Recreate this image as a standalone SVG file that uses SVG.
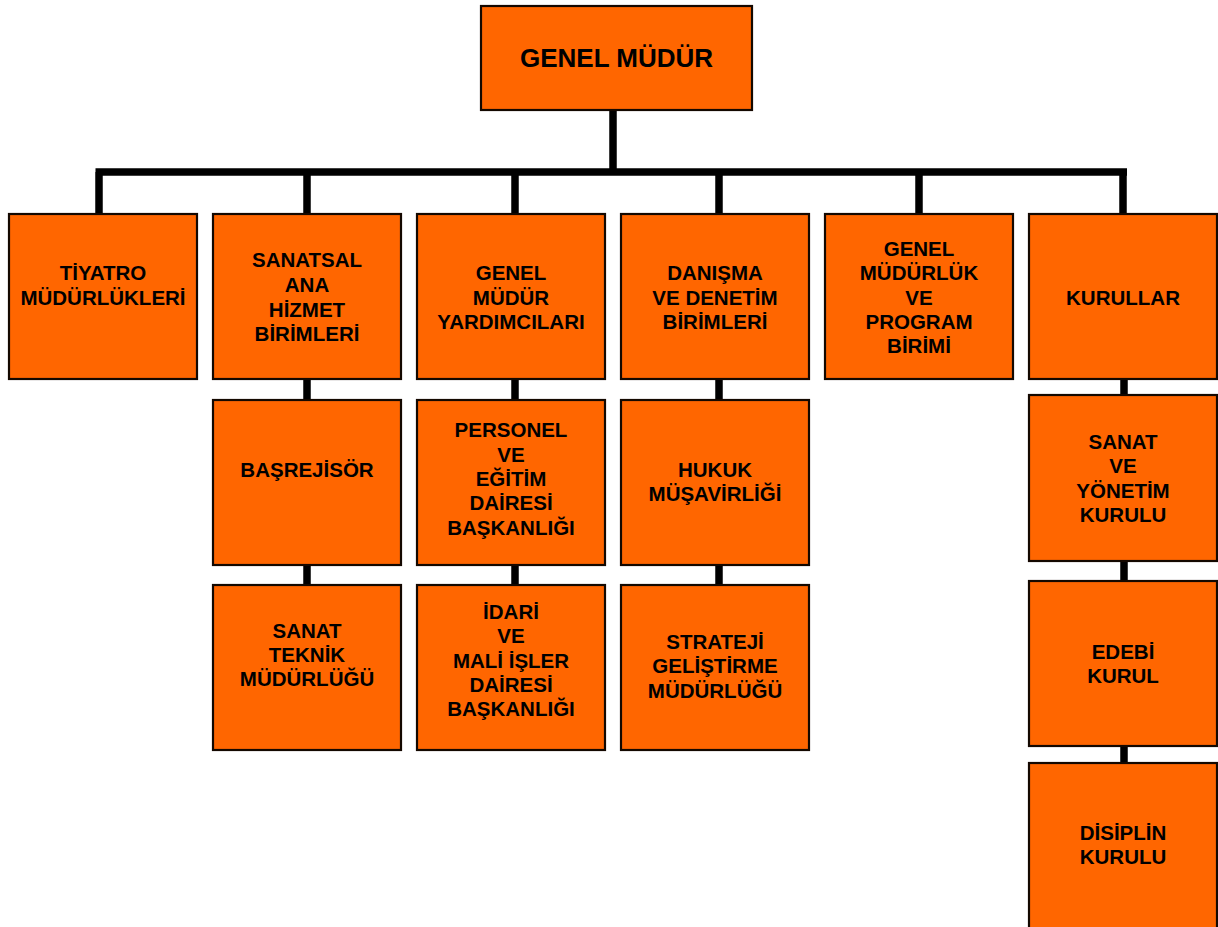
<svg xmlns="http://www.w3.org/2000/svg" width="1218" height="927" viewBox="0 0 1218 927">
<style>
.box{fill:#FF6600;stroke:#140800;stroke-width:2.2}
.t{font-family:"Liberation Sans",Arial,sans-serif;font-weight:bold;font-size:20.5px;fill:#000;text-anchor:middle}
.big{font-size:26px}
.c{stroke:#000;stroke-width:7.5;fill:none;stroke-linecap:butt}
</style>
<rect width="1218" height="927" fill="#fff"/>
<g id="connectors">
<path class="c" d="M613 110V172M95.5 172H1127M99 172V214M307 172V214M515 172V214M719 172V214M919 172V214M1123 172V214"/>
<path class="c" d="M307 379V400M307 565V585M515 379V400M515 565V585M719 379V400M719 565V585M1124 379V395M1124 561V581M1124 746V763"/>
</g>
<g id="genel-mudur"><rect class="box" x="481" y="6" width="271" height="104"/><text class="t big" x="616.5" y="67">GENEL MÜDÜR</text></g>
<g id="tiyatro"><rect class="box" x="9" y="214" width="188" height="165"/><text class="t" x="103"><tspan x="103" y="280">TİYATRO</tspan><tspan x="103" y="305">MÜDÜRLÜKLERİ</tspan></text></g>
<g id="sanatsal"><rect class="box" x="213" y="214" width="188" height="165"/><text class="t"><tspan x="307" y="267">SANATSAL</tspan><tspan x="307" y="292">ANA</tspan><tspan x="307" y="316.5">HİZMET</tspan><tspan x="307" y="341">BİRİMLERİ</tspan></text></g>
<g id="gm-yardimcilari"><rect class="box" x="417" y="214" width="188" height="165"/><text class="t"><tspan x="511" y="280">GENEL</tspan><tspan x="511" y="304.5">MÜDÜR</tspan><tspan x="511" y="328.5">YARDIMCILARI</tspan></text></g>
<g id="danisma"><rect class="box" x="621" y="214" width="188" height="165"/><text class="t"><tspan x="715" y="280">DANIŞMA</tspan><tspan x="715" y="304.5">VE DENETİM</tspan><tspan x="715" y="328.5">BİRİMLERİ</tspan></text></g>
<g id="program"><rect class="box" x="825" y="214" width="188" height="165"/><text class="t"><tspan x="919" y="255.5">GENEL</tspan><tspan x="919" y="280">MÜDÜRLÜK</tspan><tspan x="919" y="304.5">VE</tspan><tspan x="919" y="328.5">PROGRAM</tspan><tspan x="919" y="353">BİRİMİ</tspan></text></g>
<g id="kurullar"><rect class="box" x="1029" y="214" width="188" height="165"/><text class="t" x="1123" y="304.5">KURULLAR</text></g>
<g id="basrejisor"><rect class="box" x="213" y="400" width="188" height="165"/><text class="t" x="307" y="476.5">BAŞREJİSÖR</text></g>
<g id="personel"><rect class="box" x="417" y="400" width="188" height="165"/><text class="t"><tspan x="511" y="436.5">PERSONEL</tspan><tspan x="511" y="461.5">VE</tspan><tspan x="511" y="486">EĞİTİM</tspan><tspan x="511" y="510">DAİRESİ</tspan><tspan x="511" y="534.5">BAŞKANLIĞI</tspan></text></g>
<g id="hukuk"><rect class="box" x="621" y="400" width="188" height="165"/><text class="t"><tspan x="715" y="476.5">HUKUK</tspan><tspan x="715" y="501">MÜŞAVİRLİĞİ</tspan></text></g>
<g id="sanat-yonetim"><rect class="box" x="1029" y="395" width="188" height="166"/><text class="t"><tspan x="1123" y="449">SANAT</tspan><tspan x="1123" y="473">VE</tspan><tspan x="1123" y="498">YÖNETİM</tspan><tspan x="1123" y="522">KURULU</tspan></text></g>
<g id="sanat-teknik"><rect class="box" x="213" y="585" width="188" height="165"/><text class="t"><tspan x="307" y="637.5">SANAT</tspan><tspan x="307" y="661.5">TEKNİK</tspan><tspan x="307" y="686">MÜDÜRLÜĞÜ</tspan></text></g>
<g id="idari"><rect class="box" x="417" y="585" width="188" height="165"/><text class="t"><tspan x="511" y="618.5">İDARİ</tspan><tspan x="511" y="642.5">VE</tspan><tspan x="511" y="667.5">MALİ İŞLER</tspan><tspan x="511" y="691.5">DAİRESİ</tspan><tspan x="511" y="716">BAŞKANLIĞI</tspan></text></g>
<g id="strateji"><rect class="box" x="621" y="585" width="188" height="165"/><text class="t"><tspan x="715" y="648.5">STRATEJİ</tspan><tspan x="715" y="673">GELİŞTİRME</tspan><tspan x="715" y="697.5">MÜDÜRLÜĞÜ</tspan></text></g>
<g id="edebi"><rect class="box" x="1029" y="581" width="188" height="165"/><text class="t"><tspan x="1123" y="658.5">EDEBİ</tspan><tspan x="1123" y="683">KURUL</tspan></text></g>
<g id="disiplin"><rect class="box" x="1029" y="763" width="188" height="166"/><text class="t"><tspan x="1123" y="840">DİSİPLİN</tspan><tspan x="1123" y="864">KURULU</tspan></text></g>
</svg>
